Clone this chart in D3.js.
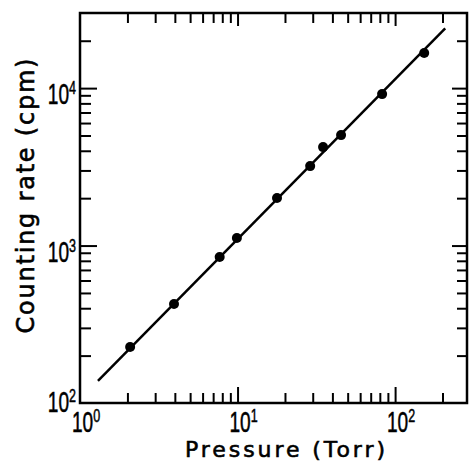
<!DOCTYPE html>
<html>
<head>
<meta charset="utf-8">
<script src="https://cdn.jsdelivr.net/npm/d3@7"></script>
<style>
  body { margin: 0; background: #fff; }
  text { fill: #000; }
</style>
</head>
<body>
<div id="chart"></div>
<script>
// data
const pressure  = [2.08, 3.95, 7.7, 9.9, 17.8, 28.9, 34.9, 45.4, 82.7, 153];
const countRate = [227, 425, 845, 1116, 2003, 3197, 4220, 5030, 9160, 16700];
// straight fit drawn through the points (end points)
const fitPressure = [1.3, 208];
const fitRate     = [138, 24000];

const xMajorTicks = [1, 10, 100];
const xMinorTicks = [2, 3, 4, 5, 6, 7, 8, 9, 20, 30, 40, 50, 60, 70, 80, 90, 200];
const yMajorTicks = [100, 1000, 10000];
const yMinorTicks = [200, 300, 400, 500, 600, 700, 800, 900,
                     2000, 3000, 4000, 5000, 6000, 7000, 8000, 9000, 20000];

const xTitle = "Pressure (Torr)";
const yTitle = "Counting rate (cpm)";

const W = 470, H = 461;
const svg = d3.select("#chart").append("svg")
  .attr("width", W).attr("height", H);

const x = d3.scaleLog().domain([1, 286]).range([80, 467]);
const y = d3.scaleLog().domain([100, 30000]).range([403, 13]);

const [x0, x1] = x.range();
const [y0, y1] = y.range();

const MAJ = 16, MIN = 10;

// ticks on all four sides, pointing inward
function tickAxis(axis, vals, len, transform) {
  const g = svg.append("g")
    .attr("transform", transform)
    .call(axis.tickValues(vals).tickSizeInner(-len).tickSizeOuter(0).tickFormat(""));
  g.select(".domain").remove();
  g.selectAll(".tick line").attr("stroke", "#000").attr("stroke-width", 2);
  return g;
}
tickAxis(d3.axisBottom(x), xMajorTicks.slice(1), MAJ, `translate(0,${y0})`);
tickAxis(d3.axisBottom(x), xMinorTicks, MIN, `translate(0,${y0})`);
tickAxis(d3.axisTop(x), xMajorTicks.slice(1), MAJ - 3, `translate(0,${y1})`);
tickAxis(d3.axisTop(x), xMinorTicks, MIN, `translate(0,${y1})`);
tickAxis(d3.axisLeft(y), yMajorTicks.slice(1), MAJ + 1, `translate(${x0},0)`);
tickAxis(d3.axisLeft(y), yMinorTicks, MIN + 1, `translate(${x0},0)`);
tickAxis(d3.axisRight(y), yMajorTicks.slice(1), MAJ - 1, `translate(${x1},0)`);
tickAxis(d3.axisRight(y), yMinorTicks, MIN, `translate(${x1},0)`);

// frame
svg.append("rect")
  .attr("x", x0).attr("y", y1)
  .attr("width", x1 - x0).attr("height", y0 - y1)
  .attr("fill", "none").attr("stroke", "#000").attr("stroke-width", 2.5);

// decade labels 10^n
const labelFont = "'Liberation Sans', Arial, sans-serif";
function decadeLabel(g, v, anchor) {
  const t = g.append("text")
    .attr("text-anchor", anchor)
    .attr("font-family", labelFont)
    .attr("font-size", 29)
    .attr("stroke", "#000")
    .attr("stroke-width", 0.5);
  t.append("tspan").text("10");
  t.append("tspan")
    .attr("font-size", 19)
    .attr("dy", -10)
    .text(Math.round(Math.log10(v)));
}
xMajorTicks.forEach(v => {
  const g = svg.append("g")
    .attr("transform", `translate(${x(v) + 6},${432}) scale(0.66,1)`);
  decadeLabel(g, v, "middle");
});
yMajorTicks.forEach((v, i) => {
  const dy = i === 0 ? 9 : 16;
  const g = svg.append("g")
    .attr("transform", `translate(${x0 - 4},${y(v) + dy}) scale(0.66,1)`);
  decadeLabel(g, v, "end");
});

// fit line
const line = d3.line().x(d => x(d[0])).y(d => y(d[1]));
svg.append("path")
  .datum(d3.zip(fitPressure, fitRate))
  .attr("d", line)
  .attr("fill", "none")
  .attr("stroke", "#000")
  .attr("stroke-width", 2.5);

// points
svg.append("g").selectAll("circle")
  .data(d3.zip(pressure, countRate))
  .join("circle")
  .attr("cx", d => x(d[0]))
  .attr("cy", d => y(d[1]))
  .attr("r", 5)
  .attr("fill", "#000");

// axis titles
svg.append("text")
  .attr("x", 285).attr("y", 457)
  .attr("text-anchor", "middle")
  .attr("font-family", "'DejaVu Sans', sans-serif")
  .attr("font-size", 22)
  .attr("stroke", "#000").attr("stroke-width", 0.6)
  .attr("textLength", 200)
  .attr("lengthAdjust", "spacing")
  .text(xTitle);

svg.append("text")
  .attr("transform", "translate(34,196) rotate(-90)")
  .attr("text-anchor", "middle")
  .attr("font-family", "'DejaVu Sans', sans-serif")
  .attr("font-size", 24)
  .attr("stroke", "#000").attr("stroke-width", 0.6)
  .attr("textLength", 275)
  .attr("lengthAdjust", "spacing")
  .text(yTitle);
</script>
</body>
</html>
